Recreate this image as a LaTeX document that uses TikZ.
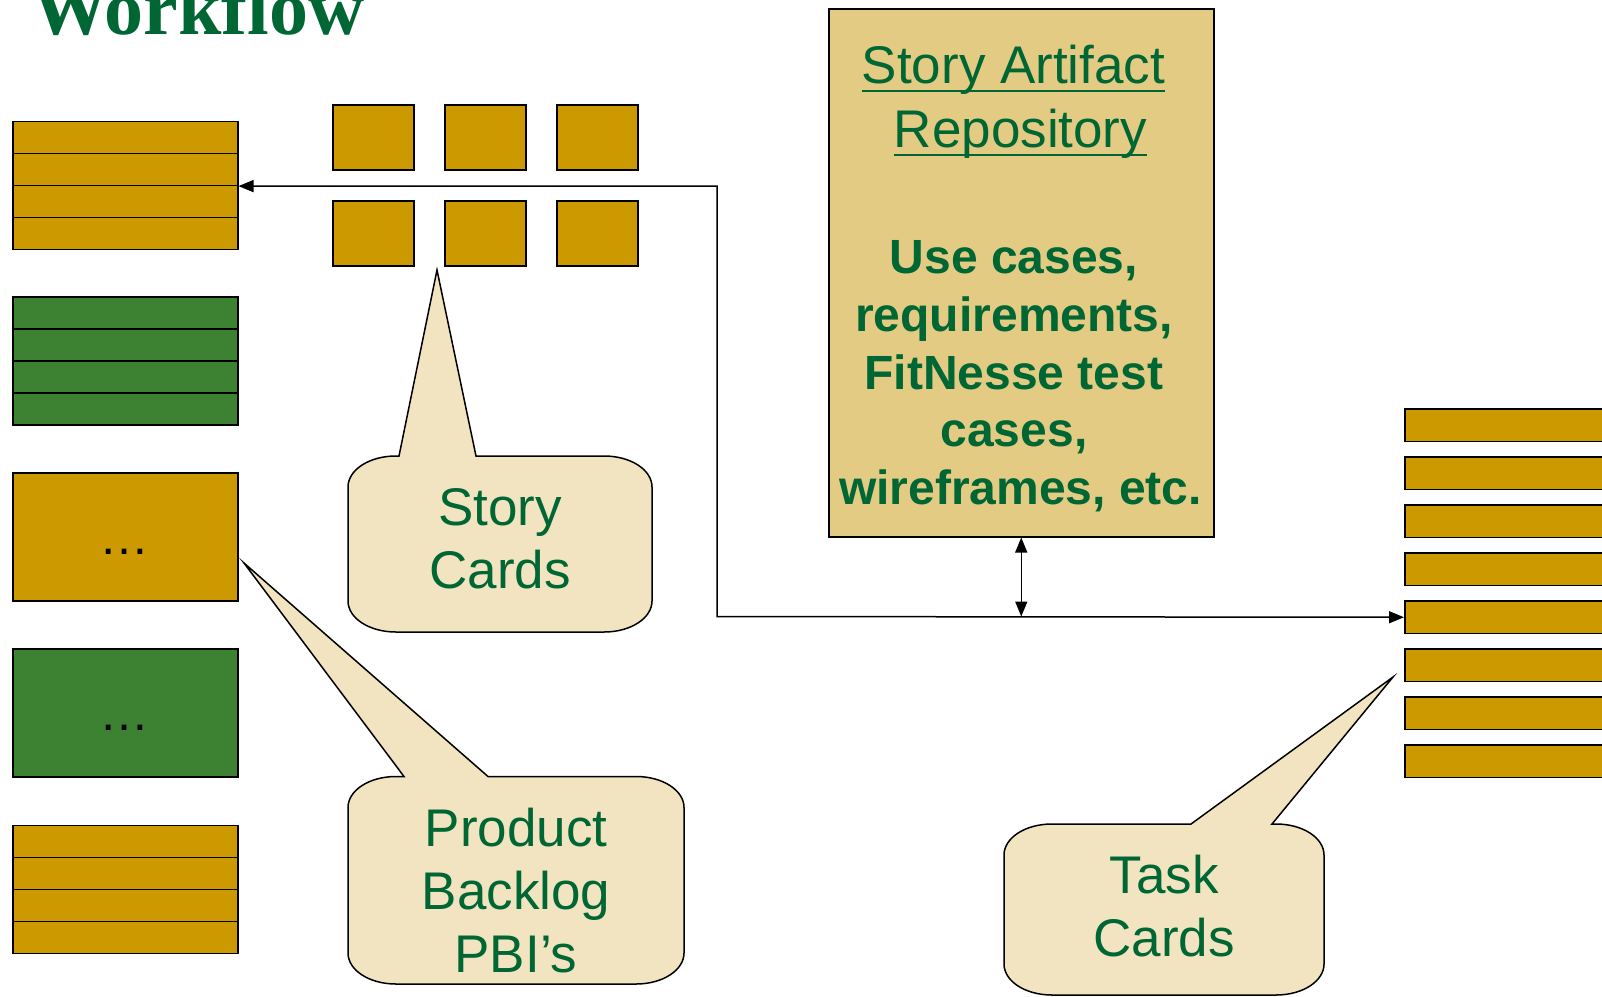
\documentclass[tikz,border=0pt]{standalone}
\usepackage{fontspec}
\setmainfont{Liberation Sans}
\newfontfamily\headfont{Liberation Serif}
\usetikzlibrary{arrows.meta}

\definecolor{gold}{HTML}{CC9900}
\definecolor{leaf}{HTML}{3C8232}
\definecolor{ink}{HTML}{006633}
\definecolor{repofill}{HTML}{E4CB84}
\definecolor{bubblefill}{HTML}{F2E4C1}

% rounded callout with a wedge: left, top, right, bottom, wedge x1, wedge x2, tip
\newcommand{\bubblepath}[7]{%
  (#5,#2) -- #7 -- (#6,#2) -- ({#3-48},#2)
  .. controls ({#3-21},#2) and (#3,{#2+14}) .. (#3,{#2+31})
  -- (#3,{#4-31})
  .. controls (#3,{#4-14}) and ({#3-21},#4) .. ({#3-48},#4)
  -- ({#1+48},#4)
  .. controls ({#1+21},#4) and (#1,{#4-14}) .. (#1,{#4-31})
  -- (#1,{#2+31})
  .. controls (#1,{#2+14}) and ({#1+21},#2) .. ({#1+48},#2)
  -- cycle}

\begin{document}
\begin{tikzpicture}[x=1pt, y=-1pt,
    box/.style={draw=black, line width=1.5pt, inner sep=0pt, anchor=north west},
    row/.style={box, fill=gold, minimum width=225pt, minimum height=32pt},
    card/.style={box, fill=gold, minimum width=81pt, minimum height=65pt},
    bubble/.style={draw=black, line width=1.5pt, fill=bubblefill},
    saytext/.style={text=ink, inner sep=0pt, align=center, font=\fontsize{53}{63}\selectfont},
    flow/.style={line width=1.5pt, >={Triangle[length=15pt,width=12pt]}, <->}]
    \useasboundingbox (0,0) rectangle (1602,996);
    \clip (0,0) rectangle (1602,996);

    % Title
    \node[anchor=base west, inner sep=0pt, text=ink, font=\headfont\bfseries\fontsize{78}{80}\selectfont] (title) at (31,34) {Workflow};

    % Product backlog column
    \foreach \i in {0,...,3} {
        \node[row] (pbA\i) at (12,{120.6+32*\i}) {};
        \node[row, fill=leaf] (pbB\i) at (12,{296.3+32*\i}) {};
        \node[row] (pbE\i) at (12,{824.5+32*\i}) {};
    }
    \node[row, minimum height=128pt] (pbC) at (12,472) {};
    \node[row, fill=leaf, minimum height=128pt] (pbD) at (12,648) {};
    \node[anchor=base, inner sep=0pt, font=\fontsize{50}{50}\selectfont] (dotsC) at (124.5,554) {…};
    \node[anchor=base, inner sep=0pt, font=\fontsize{50}{50}\selectfont] (dotsD) at (124.5,730) {…};

    % Story cards
    \foreach \cx [count=\c] in {332,444,556} {
        \node[card] (cardA\c) at (\cx,104) {};
        \node[card] (cardB\c) at (\cx,200) {};
    }

    % Task cards
    \foreach \i in {1,...,8}
        \node[row, minimum width=230pt, minimum height=32.4pt] (task\i) at (1404,{408.3+48*(\i-1)}) {};

    % Repository
    \node[box, fill=repofill, minimum width=385pt, minimum height=528pt] (repo) at (828,8) {};
    \node[saytext, anchor=base] (repoA) at (1013.5,83) {Story Artifact};
    \node[saytext, anchor=base] (repoB) at (1020.5,147) {Repository};
    \draw[ink, line width=2.5pt] ([yshift=-8pt]repoA.base west) -- ([yshift=-8pt]repoA.base east);
    \draw[ink, line width=2.5pt] ([yshift=-8pt]repoB.base west) -- ([yshift=-8pt]repoB.base east);
    % trailing kerns keep the short lines a bit left of centre
    \node[saytext, anchor=north, font=\bfseries\fontsize{48}{57.9}\selectfont] (repoC) at (1020.5,240)
        {Use cases,\kern13pt\\requirements,\kern13pt\\FitNesse test\kern13pt\\cases,\kern13pt\\wireframes, etc.};

    % Flow between backlog, tasks and repository
    \coordinate (junction) at (717,616.5);
    \draw[flow] (pbA1.south east) -| (junction) -- (task5.west);
    \draw[flow] (repo.south) -- (repo.south |- junction);

    % Callouts
    \draw[bubble] \bubblepath{348}{456}{652}{632}{399}{476}{(437,270)};
    \node[saytext] (storytxt) at (500,539) {Story\\Cards};
    \draw[bubble] \bubblepath{348}{776.5}{684}{984}{404}{488}{(244,563)};
    \node[saytext] (pbitxt) at (516,891) {Product\\Backlog\\PBI’s};
    \draw[bubble] \bubblepath{1004}{824}{1324}{995}{1191}{1272}{(1393,677)};
    \node[saytext] (tasktxt) at (1164,906) {Task\\Cards};
\end{tikzpicture}
\end{document}
